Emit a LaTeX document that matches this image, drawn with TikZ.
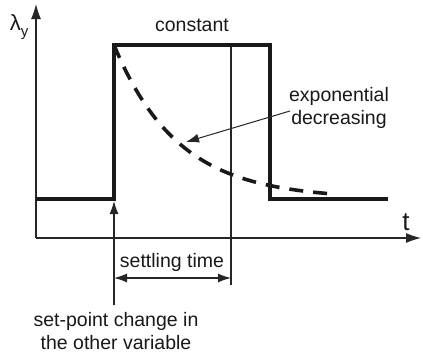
\documentclass[tikz,border=0pt]{standalone}
\usepackage{fontspec}
\setmainfont{Liberation Sans}
\usetikzlibrary{arrows.meta}
\begin{document}
\begin{tikzpicture}[x=1pt,y=-1pt,
  thin line/.style={line width=1.2pt, draw=black!85},
  thick line/.style={line width=3.6pt, draw=black!90, line join=miter},
  bigtip/.style={-{Latex[length=15pt,width=10pt]}},
  tip/.style={-{Latex[length=13pt,width=9pt]}},
  lbl/.style={font=\fontsize{19.5}{23}\selectfont, inner sep=0pt, text=black!90},
]
\useasboundingbox (0,0) rectangle (423,356);
\fill[white] (0,0) rectangle (423,356);
% axes
\coordinate (O) at (36,238);
\coordinate (Ytop) at (36,4);
\coordinate (Xend) at (421,238);
\draw[thin line, bigtip] (O) -- (Ytop);
\draw[thin line, bigtip] (O) -- (Xend);
\node[lbl, font=\fontsize{22}{24}\selectfont] (ly) at (19,27) {λ\raisebox{-0.45ex}{\fontsize{15}{17}\selectfont y}};
\node[lbl, font=\fontsize{26}{28}\selectfont] (t) at (406,222) {t};
% step response
\coordinate (s0) at (36,199);
\coordinate (s1) at (114,199);
\coordinate (s2) at (114,45);
\coordinate (s3) at (270,45);
\coordinate (s4) at (270,199);
\coordinate (s5) at (388,199);
% settling line
\coordinate (vtop) at (231,45);
\coordinate (vbot) at (231,285);
\draw[thin line] (vtop) -- (vbot);
\draw[thick line] (s0) -- (s1) -- (s2) -- (s3) -- (s4) -- (s5);
% exponential
\draw[thick line, dash pattern=on 14pt off 10pt, line cap=butt]
  plot[domain=0:220, samples=80, smooth] ({114+\x},{199-154*exp(-\x/64)});
\node[lbl] (const) at (192,25) {constant};
\node[lbl, align=center] (expo) at (339,108) {exponential\\decreasing};
\coordinate (expotip) at (186,142);
\coordinate (expotail) at (290,111);
\draw[thin line, line width=1pt, tip] (expotail) -- (expotip);
% set-point
\coordinate (spbot) at (114,305);
\coordinate (sptop) at (114,201);
\draw[thin line, tip] (spbot) -- (sptop);
\node[lbl, align=center] (sp) at (116,331) {set-point change in\\the other variable};
% settling time
\coordinate (stl) at (114,278);
\coordinate (str) at (231,278);
\draw[thin line, {Latex[length=13pt,width=9pt]}-{Latex[length=13pt,width=9pt]}] (stl) -- (str);
\node[lbl] (st) at (172,262) {settling time};
\end{tikzpicture}
\end{document}
